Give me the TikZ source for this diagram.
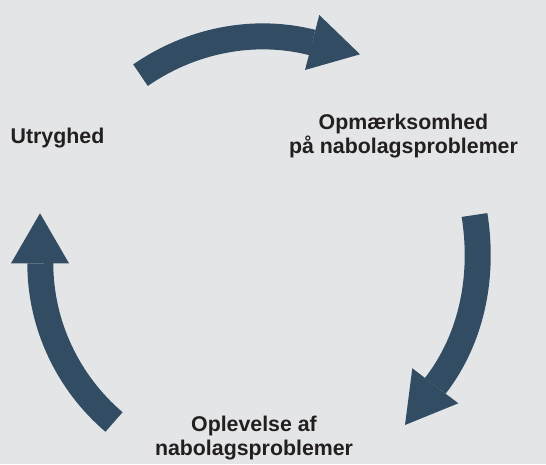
\documentclass[tikz,border=0pt]{standalone}
\usepackage{fontspec}
\setmainfont{Liberation Sans}

\tikzset{every picture/.style={line width=0.75pt}}

\begin{document}
\begin{tikzpicture}[x=0.75pt,y=0.75pt,yscale=-1,xscale=1,
  cyclearrow/.style={draw={rgb, 255:red, 50; green, 77; blue, 99 }, line width=19.5pt},
  cyclehead/.style={draw=none, fill={rgb, 255:red, 50; green, 77; blue, 99 }, fill opacity=1},
  lbl/.style={font=\bfseries\fontsize{16}{18}\selectfont, text={rgb, 255:red, 35; green, 31; blue, 32 }, align=center, inner sep=0pt}]
%set diagram left start at 0, and has height of 464

%Shape: Rectangle [background]
\fill [fill={rgb, 255:red, 228; green, 229; blue, 231 }] (0,0) -- (546,0) -- (546,464) -- (0,464) -- cycle ;

%Shape: Arc [top arrow]
\draw [cyclearrow] (140.5,75.2) .. controls (190.4,40.6) and (253.2,27.5) .. (312.3,42.5) ;
%Shape: Triangle
\draw [cyclehead] (319.3,15) -- (360,54.3) -- (305,70) -- cycle ;

%Shape: Arc [right arrow]
\draw [cyclearrow] (474.5,215) .. controls (484.1,275.2) and (472.6,337.6) .. (435.3,385.8) ;
%Shape: Triangle
\draw [cyclehead] (412.3,368.3) -- (458.3,403.3) -- (405,425) -- cycle ;

%Shape: Arc [left arrow]
\draw [cyclearrow] (114,422) .. controls (67.6,382.3) and (40.3,324.4) .. (40.3,263.3) ;
%Shape: Triangle
\draw [cyclehead] (11,263.3) -- (40,213.3) -- (69,263.3) -- cycle ;

% Text Node
\draw (57.5,138.5) node [lbl] (utryghed) {Utryghed};
% Text Node
\draw (403.5,135.7) node [lbl] (opmaerksomhed) {Opmærksomhed\\på nabolagsproblemer};
% Text Node
\draw (254,438) node [lbl] (oplevelse) {Oplevelse af\\nabolagsproblemer};

\end{tikzpicture}
\end{document}
